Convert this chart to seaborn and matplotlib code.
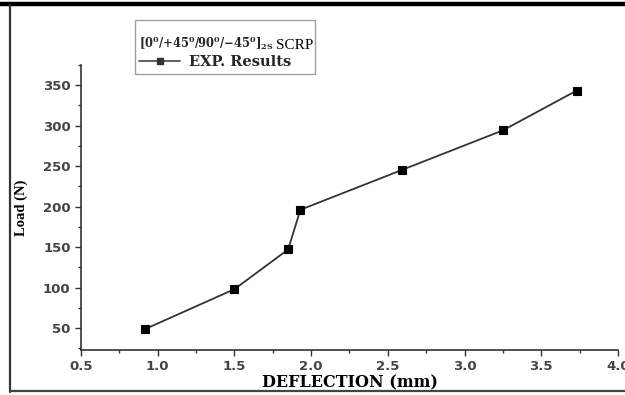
import matplotlib
matplotlib.use("Agg")
import matplotlib.pyplot as plt
from matplotlib.lines import Line2D
from matplotlib.ticker import MultipleLocator
import seaborn as sns
import pandas as pd

# Load-deflection test data for the [0/+45/90/-45]2S SCRP laminate
deflection_mm = [0.92, 1.50, 1.85, 1.93, 2.59, 3.25, 3.73]
load_n = [49.05, 98.1, 147.15, 196.2, 245.25, 294.3, 343.35]
x_ticks = [0.5, 1.0, 1.5, 2.0, 2.5, 3.0, 3.5, 4.0]
y_ticks = [50, 100, 150, 200, 250, 300, 350]

df = pd.DataFrame({"Deflection": deflection_mm, "Load": load_n})

sns.set_style("ticks")
plt.rcParams["font.family"] = ["DejaVu Sans"]
plt.rcParams["mathtext.fontset"] = "dejavuserif"

W, H = 625, 395
fig = plt.figure(figsize=(W / 100, H / 100), dpi=100)
ax = fig.add_axes([81 / W, 1 - 350 / H, 537 / W, 285 / H])

sns.lineplot(data=df, x="Deflection", y="Load", ax=ax, color="#333333",
             linewidth=1.3, marker="s", markersize=5.6, markeredgewidth=0.8,
             markerfacecolor="black", markeredgecolor="black",
             estimator=None, sort=False, legend=False)

ax.set_xlim(0.5, 4.0)
ax.set_ylim(23, 375)
ax.set_xticks(x_ticks)
ax.set_yticks(y_ticks)
ax.xaxis.set_minor_locator(MultipleLocator(0.25))
ax.yaxis.set_minor_locator(MultipleLocator(25))

for side in ("top", "right"):
    ax.spines[side].set_visible(False)
for side in ("left", "bottom"):
    ax.spines[side].set_color("#333333")
    ax.spines[side].set_linewidth(1.2)
    ax.spines[side].set_clip_on(False)

ax.tick_params(which="major", direction="out", length=4.5, width=1.0,
               color="#333333", pad=3)
ax.tick_params(which="minor", direction="out", length=2.5, width=1.0,
               color="#333333")
for lbl in ax.get_xticklabels() + ax.get_yticklabels():
    lbl.set_fontfamily("DejaVu Sans")
    lbl.set_fontweight("bold")
    lbl.set_fontsize(9.5)
    lbl.set_color("#444444")
    lbl.set_clip_on(False)

ax.set_xlabel("DEFLECTION (mm)", fontfamily="DejaVu Serif",
              fontweight="bold", fontsize=11.5, color="black", labelpad=0.5)
ax.set_ylabel("Load (N)", fontfamily="Liberation Serif", fontweight="bold",
              fontsize=10.5, color="black")
ax.yaxis.set_label_coords(-0.099, 0.5)

handle = Line2D([], [], color="#444444", linewidth=1.2, marker="s",
                markersize=4.5, markerfacecolor="#333333",
                markeredgecolor="#333333")
# fixed-width legend box; the larger "SCRP" tag is set after the title
leg = ax.legend([handle], ["EXP. Results"],
                title="\n" + r"$\mathbf{[0^0/{+}45^0/90^0/{-}45^0]_{2S}}$",
                loc="upper left",
                bbox_to_anchor=(135 / W, 1 - 73 / H, 180 / W, 53 / H),
                bbox_transform=fig.transFigure, mode="expand", borderaxespad=0,
                frameon=True, fancybox=False, handlelength=2.8,
                handletextpad=0.6, borderpad=0.3, labelspacing=0.2,
                prop={"family": "DejaVu Serif", "weight": "bold", "size": 10.5},
                title_fontproperties={"family": "Liberation Serif", "size": 8.3})
leg._legend_box.align = "left"
leg.get_title().set_linespacing(0.85)
leg.get_frame().set_edgecolor("#888888")
leg.get_frame().set_linewidth(1.0)
leg.set_clip_on(False)

fig.canvas.draw()
tb = leg.get_title().get_window_extent()
fig.text((tb.x1 + 2) / W, (tb.y0 + 3.5) / H, "SCRP",
         ha="left", va="baseline", fontfamily="Liberation Serif",
         fontsize=11, color="black")

# outer border of the figure panel
fig.add_artist(Line2D([0, 1], [1 - 4 / H, 1 - 4 / H], transform=fig.transFigure,
                      color="black", linewidth=3.2))
fig.add_artist(Line2D([10 / W, 10 / W], [1 - 5 / H, 1 - 392 / H],
                      transform=fig.transFigure, color="#333333", linewidth=1.6))
fig.add_artist(Line2D([10 / W, 1], [1 - 391 / H, 1 - 391 / H],
                      transform=fig.transFigure, color="#444444", linewidth=1.6))

fig.savefig("out.png", dpi=100)
